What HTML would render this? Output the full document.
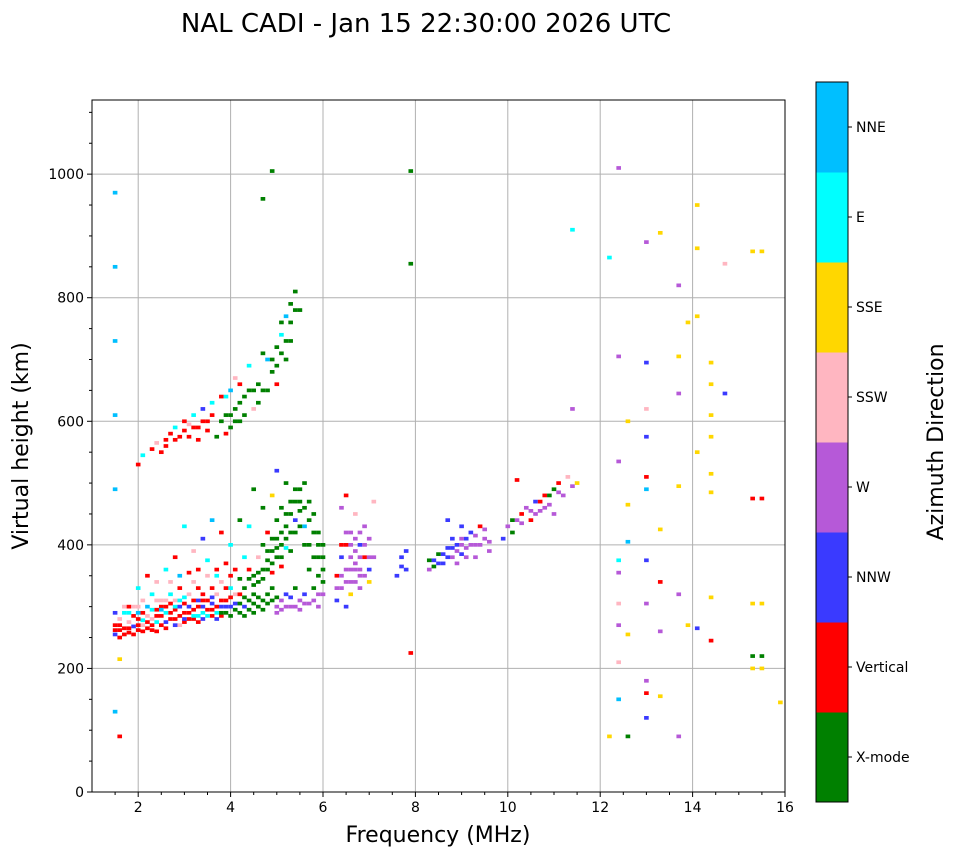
<!DOCTYPE html>
<html><head><meta charset="utf-8"><style>
body{margin:0;background:#fff;}
svg text{font-family:"DejaVu Sans","Liberation Sans",sans-serif;}
</style></head><body>
<svg id="chart" width="958" height="857" xmlns="http://www.w3.org/2000/svg">
<text x="426" y="32" font-size="26" text-anchor="middle">NAL CADI - Jan 15 22:30:00 2026 UTC</text>
<g id="grid"></g>
<g id="marks"></g>
<rect x="92" y="100" width="693" height="692" fill="none" stroke="#000" stroke-width="1"/>
<g id="axes"></g>
<text x="438" y="842" font-size="22" text-anchor="middle">Frequency (MHz)</text>
<text transform="translate(28,446) rotate(-90)" font-size="22" text-anchor="middle">Virtual height (km)</text>
<g id="cbar"></g>
<text transform="translate(943,442) rotate(-90)" font-size="22" text-anchor="middle">Azimuth Direction</text>
</svg>
<script>
const modeNames = ["X-mode","Vertical","NNW","W","SSW","SSE","E","NNE"];
const modeColors = ["#008000","#ff0000","#3a3aff","#b659d8","#ffb6c1","#ffd700","#00ffff","#00bfff"];
const xTicks = [2,4,6,8,10,12,14,16];
const yTicks = [0,200,400,600,800,1000];
const echoes = [
[1.5,270,1],[1.5,255,2],[1.6,280,4],[1.6,262,1],[1.7,290,6],[1.7,265,1],[1.8,275,4],[1.8,258,1],[1.9,285,1],[1.9,268,2],[2.0,300,4],[2.0,262,1],[2.1,278,6],[2.1,290,1],[2.2,265,1],[2.2,300,7],[2.3,280,4],[2.3,262,1],[2.4,295,1],[2.4,275,6],[2.5,310,4],[2.5,285,1],[2.6,300,1],[2.6,275,2],[2.7,320,6],[2.7,290,1],[2.8,310,4],[2.8,280,1],[2.9,300,2],[2.9,330,1],[3.0,290,1],[3.0,315,6],[3.1,280,1],[3.1,300,2],[3.2,340,4],[3.2,295,1],[3.3,310,2],[3.3,285,6],[3.4,320,1],[3.4,300,2],[3.5,350,4],[3.5,295,1],[3.6,305,2],[3.6,330,1],[3.7,290,6],[3.7,360,1],[3.8,300,2],[3.8,340,4],[3.9,310,1],[3.9,290,0],[4.0,300,2],[4.0,350,1],[4.1,295,0],[4.1,320,4],[4.2,305,0],[4.3,300,2],[4.4,310,0],[4.5,305,0],[4.6,315,0],[4.7,310,0],[4.8,320,0],[4.9,330,0],[5.0,300,3],[5.1,310,3],[5.2,320,2],[5.3,300,3],[5.4,330,0],[5.5,310,3],[5.6,320,2],[5.7,305,3],[5.8,330,0],[5.9,320,3],[6.0,340,0],
[1.6,250,1],[1.8,290,6],[2.0,280,1],[2.2,285,4],[2.4,260,1],[2.6,290,6],[2.8,295,1],[3.0,275,1],[3.2,280,1],[3.4,290,6],[3.6,285,1],[3.8,285,1],[2.1,310,4],[2.5,300,1],[2.9,310,6],[3.3,330,1],[3.7,320,4],[4.0,330,6],
[1.5,290,2],[1.5,262,1],[1.6,270,1],[1.7,255,1],[1.7,300,4],[1.8,265,1],[1.8,300,1],[1.9,255,1],[1.9,300,4],[2.0,270,1],[2.0,290,7],[2.1,260,1],[2.1,270,4],[2.2,275,1],[2.3,270,1],[2.3,295,6],[2.4,285,1],[2.4,310,4],[2.5,270,1],[2.5,295,7],[2.6,265,1],[2.6,310,4],[2.7,280,1],[2.7,305,1],[2.8,270,2],[2.8,300,6],[2.9,285,1],[2.9,270,4],[3.0,280,2],[3.0,305,1],[3.1,290,1],[3.1,320,4],[3.2,285,6],[3.2,310,1],[3.3,275,1],[3.3,300,1],[3.4,280,2],[3.4,310,1],[3.5,285,6],[3.5,310,1],[3.6,295,1],[3.6,315,2],[3.7,300,1],[3.7,280,2],[3.8,310,1],[3.8,290,0],[3.9,300,2],[3.9,330,1],[4.0,285,0],[4.0,315,1],[4.1,305,2],[4.2,290,0],[4.2,320,1],[4.3,285,0],[4.3,315,0],[4.4,295,0],[4.5,290,0],[4.5,320,0],[4.6,300,0],[4.7,295,0],[4.8,305,0],[4.9,310,0],[5.0,315,0],[5.0,290,3],[5.1,295,3],[5.2,300,3],[5.3,315,2],[5.4,300,3],[5.5,295,3],[5.6,305,3],[5.8,310,3],[5.9,300,3],[6.0,320,3],
[2.3,320,6],[2.7,340,4],[3.1,355,1],[3.5,375,6],[3.9,370,1],[4.3,380,6],[2.9,350,7],[3.3,360,1],[3.7,350,6],[4.1,360,1],[4.4,360,1],[4.2,345,0],
[4.3,330,0],[4.4,345,0],[4.5,350,0],[4.6,340,0],[4.7,360,0],[4.8,375,0],[4.9,390,0],[5.0,380,0],[5.0,410,0],[5.1,400,0],[5.2,430,0],[5.2,395,6],[5.3,450,0],[5.3,420,0],[5.4,470,0],[5.4,440,2],[5.5,490,0],[5.5,455,0],[5.6,500,0],[5.6,430,7],[5.7,470,0],[5.8,450,0],[5.9,420,0],[6.0,400,0],[5.1,365,1],[4.9,355,1],[4.6,380,4],[4.4,430,6],[4.2,440,0],[4.0,400,6],[3.8,420,1],[3.6,440,7],[3.4,410,2],[3.2,390,4],[3.0,430,6],[2.8,380,1],[2.6,360,6],[2.4,340,4],[2.2,350,1],[2.0,330,6],[4.7,460,0],[4.9,480,5],[5.2,500,0],[5.0,520,2],[4.5,490,0],[4.8,420,1],[5.7,400,0],[5.9,380,0],[6.0,360,0],
[4.5,335,0],[4.6,355,0],[4.7,345,0],[4.8,360,0],[4.8,390,0],[4.9,370,0],[4.9,410,0],[5.0,395,0],[5.1,420,0],[5.1,380,0],[5.2,410,0],[5.2,450,0],[5.3,470,0],[5.3,390,0],[5.4,420,0],[5.4,490,0],[5.5,430,0],[5.5,470,0],[5.6,460,0],[5.6,400,0],[5.7,440,0],[5.7,360,0],[5.8,420,0],[5.8,380,0],[5.9,400,0],[5.9,350,0],[6.0,380,0],[5.0,440,0],[5.1,460,0],[4.7,400,0],
[2.0,530,1],[2.1,545,6],[2.3,555,1],[2.4,565,4],[2.6,570,1],[2.7,580,1],[2.8,590,6],[2.9,575,1],[3.0,600,1],[3.1,595,4],[3.2,610,6],[3.3,590,1],[3.4,620,2],[3.5,600,1],[3.6,630,6],[3.7,575,0],[3.8,640,1],[3.9,610,0],[4.0,590,0],[4.0,650,7],[4.1,620,0],[4.2,600,0],[4.2,660,1],[4.3,640,0],[4.4,690,6],[4.5,650,0],[4.6,630,0],[4.7,710,0],[4.8,650,0],[4.8,700,7],[4.9,680,0],[5.0,720,0],[5.0,660,1],[5.1,740,6],[5.2,700,0],[5.2,770,7],[5.3,790,0],[5.3,730,0],[5.4,810,0],[5.5,780,0],[5.1,760,0],[3.3,570,1],[2.5,550,1],[3.9,640,6],[4.1,670,4],
[2.6,560,1],[2.8,570,1],[3.0,585,1],[3.2,590,1],[3.4,600,1],[3.6,610,1],[3.8,600,0],[4.0,610,0],[4.1,600,0],[4.2,630,0],[4.3,610,0],[4.4,650,0],[4.6,660,0],[4.7,650,0],[4.9,700,0],[5.0,690,0],[5.1,710,0],[5.2,730,0],[5.3,760,0],[5.4,780,0],[4.5,620,4],[3.9,580,1],[3.5,585,1],[3.1,575,1],
[6.3,310,2],[6.3,350,1],[6.4,330,3],[6.4,380,2],[6.5,360,3],[6.5,400,1],[6.5,300,2],[6.6,340,3],[6.6,420,3],[6.7,370,3],[6.7,390,3],[6.7,450,4],[6.8,350,3],[6.8,400,2],[6.9,380,1],[6.9,430,3],[7.0,360,2],[7.0,410,3],[7.1,380,3],[7.1,470,4],[6.4,460,3],[6.5,480,1],[6.6,320,5],[6.8,330,3],[7.0,340,5],[6.6,380,3],[6.7,360,3],[6.8,380,3],
[6.5,340,3],[6.6,360,3],[6.6,400,3],[6.7,340,3],[6.7,410,3],[6.8,360,3],[6.8,420,3],[6.9,350,3],[6.9,400,3],[7.0,380,3],[6.5,420,3],[6.4,400,1],[6.4,350,3],[6.3,330,3],
[7.6,350,2],[7.7,380,2],[7.8,360,2],[8.3,360,3],[8.4,375,2],[8.5,385,0],[8.6,370,2],[8.7,395,2],[8.8,380,3],[8.9,400,2],[9.0,410,3],[9.0,385,2],[9.1,395,3],[9.2,420,2],[9.3,400,3],[9.4,430,1],[9.5,410,3],[9.6,390,3],[8.7,440,2],[9.0,430,2],[8.9,370,3],[9.3,380,3],
[8.3,375,0],[8.4,365,0],[8.5,370,2],[8.6,385,2],[8.7,380,2],[8.8,395,2],[8.8,410,2],[8.9,390,3],[9.0,400,3],[9.1,410,2],[9.1,380,3],[9.2,400,3],[9.3,415,3],[9.4,400,3],[9.5,425,3],[9.6,405,3],[7.7,365,2],[7.8,390,2],
[9.9,410,2],[10.0,430,3],[10.1,420,0],[10.2,440,3],[10.3,450,1],[10.4,460,3],[10.5,440,1],[10.6,470,2],[10.7,455,3],[10.8,480,1],[10.9,465,3],[11.0,490,0],[11.0,450,3],[11.1,500,1],[11.2,480,3],[11.3,510,4],[11.4,495,3],[11.5,500,5],[10.2,505,1],
[10.1,440,0],[10.3,435,3],[10.5,455,3],[10.7,470,1],[10.9,480,0],[11.1,485,3],[10.6,450,3],[10.8,460,3],
[1.5,970,7],[1.5,850,7],[1.5,730,7],[1.5,610,7],[1.5,490,7],[1.5,130,7],[1.6,215,5],[1.6,90,1],[4.9,1005,0],[4.7,960,0],[7.9,1005,0],[7.9,855,0],[7.9,225,1],[11.4,910,6],[11.4,620,3],[12.2,865,6],[12.4,1010,3],[12.4,705,3],[12.4,535,3],[12.4,375,6],[12.4,355,3],[12.4,305,4],[12.4,270,3],[12.4,210,4],[12.4,150,7],[12.2,90,5],[12.6,90,0],[12.6,405,7],[12.6,465,5],[12.6,255,5],[12.6,600,5],[13.0,890,3],[13.0,695,2],[13.0,575,2],[13.0,510,1],[13.0,490,7],[13.0,375,2],[13.0,305,3],[13.0,180,3],[13.0,160,1],[13.0,120,2],[13.0,620,4],[13.3,905,5],[13.3,425,5],[13.3,340,1],[13.3,260,3],[13.3,155,5],[13.7,820,3],[13.7,705,5],[13.7,645,3],[13.7,495,5],[13.7,320,3],[13.7,90,3],[13.9,760,5],[13.9,270,5],[14.1,950,5],[14.1,880,5],[14.1,770,5],[14.1,550,5],[14.1,265,2],[14.4,695,5],[14.4,660,5],[14.4,610,5],[14.4,575,5],[14.4,515,5],[14.4,485,5],[14.4,315,5],[14.4,245,1],[14.7,855,4],[14.7,645,2],[15.3,875,5],[15.5,875,5],[15.3,475,1],[15.5,475,1],[15.3,305,5],[15.5,305,5],[15.3,220,0],[15.5,220,0],[15.3,200,5],[15.5,200,5],[15.9,145,5]
];
const NS="http://www.w3.org/2000/svg";
const X0=92,X1=785,Y0=792,Y1=100,FMIN=1,FMAX=16,HMIN=0,HMAX=1120;
function xs(f){return X0+(f-FMIN)/(FMAX-FMIN)*(X1-X0);}
function ys(h){return Y0-(h-HMIN)/(HMAX-HMIN)*(Y0-Y1);}
function mk(tag,attrs,parent){const e=document.createElementNS(NS,tag);for(const k in attrs)e.setAttribute(k,attrs[k]);parent.appendChild(e);return e;}
const grid=document.getElementById('grid'),axes=document.getElementById('axes'),marks=document.getElementById('marks'),cbar=document.getElementById('cbar');
xTicks.forEach(t=>{const x=xs(t);
 const g=mk('line',{x1:x,x2:x,y1:Y1,y2:Y0,stroke:'#b0b0b0','stroke-width':1},grid);
 
 
 mk('line',{x1:x,x2:x,y1:Y0,y2:Y0+5,stroke:'#000'},axes);
 const tx=mk('text',{x:x,y:Y0+20,'font-size':14,'text-anchor':'middle'},axes);tx.textContent=t;
 
 
});
for(let f=1.5;f<16;f+=0.5){if(Math.abs(f-Math.round(f/2)*2)<0.01)continue;mk('line',{x1:xs(f),x2:xs(f),y1:Y0,y2:Y0+3,stroke:'#000'},axes);}
yTicks.forEach(t=>{const y=ys(t);
 const g=mk('line',{x1:X0,x2:X1,y1:y,y2:y,stroke:'#b0b0b0','stroke-width':1},grid);
 
 
 mk('line',{x1:X0-5,x2:X0,y1:y,y2:y,stroke:'#000'},axes);
 const tx=mk('text',{x:X0-8,y:y+5,'font-size':14,'text-anchor':'end'},axes);tx.textContent=t;
 
 
});
for(let h=50;h<1120;h+=50){if(h%200===0)continue;mk('line',{x1:X0-3,x2:X0,y1:ys(h),y2:ys(h),stroke:'#000'},axes);}
const cw=xs(1.1)-xs(1), ch=ys(0)-ys(6);
echoes.forEach(d=>{
 const r=mk('rect',{x:xs(d[0])-cw/2,y:ys(d[1])-ch/2,width:cw,height:ch,fill:modeColors[d[2]]},marks);
 
 
});
const CX=816,CW=32,CT=82,CB=802,seg=(CB-CT)/modeNames.length;
modeNames.forEach((n,i)=>{
 const y=CB-(i+1)*seg;
 const r=mk('rect',{x:CX,y:y,width:CW,height:seg+0.5,fill:modeColors[i]},cbar);
 
 
 mk('line',{x1:CX+CW,x2:CX+CW+4,y1:y+seg/2,y2:y+seg/2,stroke:'#000'},cbar);
 const t=mk('text',{x:CX+CW+8,y:y+seg/2+5,'font-size':14},cbar);t.textContent=n;
 
 
});
mk('rect',{x:CX,y:CT,width:CW,height:CB-CT,fill:'none',stroke:'#000'},cbar);
</script>
</body></html>
